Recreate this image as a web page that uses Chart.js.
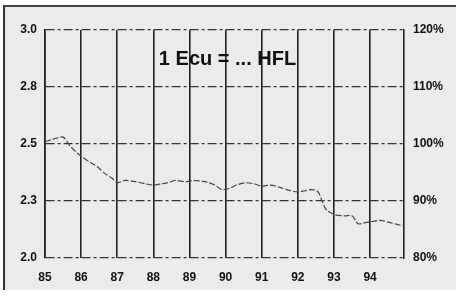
<!DOCTYPE html>
<html>
<head>
<meta charset="utf-8">
<script src="https://cdn.jsdelivr.net/npm/chart.js@4/dist/chart.umd.min.js"></script>
<style>
  body { margin: 0; background: #fff; }
  #marco {
    position: absolute; left: 3px; top: 5px; width: 453px; height: 285px;
    background: #ebebeb; border-left: 2px solid #333; border-top: 2px solid #444;
    box-sizing: border-box;
  }
  #caja { position: absolute; left: 0; top: 0; width: 456px; height: 300px; }
</style>
</head>
<body>
<div id="marco"></div>
<div id="caja"><canvas id="grafica" width="456" height="300"></canvas></div>
<script>
// Tipo de cambio: 1 Ecu en florines (HFL), años 85-94
const anios = [85.0, 85.2, 85.5, 85.7, 85.97, 86.25, 86.45, 86.66, 86.86, 87.0,
  87.2, 87.5, 87.8, 88.0, 88.2, 88.4, 88.6, 88.88, 89.1, 89.43,
  89.7, 89.9, 90.1, 90.3, 90.54, 90.8, 91.0, 91.23, 91.5, 91.8,
  92.0, 92.2, 92.4, 92.56, 92.67, 92.8, 93.03, 93.3, 93.5, 93.67,
  93.86, 94.06, 94.28, 94.56, 94.94];
const ecu = [2.51, 2.52, 2.53, 2.49, 2.45, 2.42, 2.40, 2.37, 2.35, 2.33,
  2.34, 2.335, 2.325, 2.32, 2.325, 2.33, 2.34, 2.335, 2.34, 2.335,
  2.32, 2.30, 2.305, 2.32, 2.33, 2.325, 2.315, 2.32, 2.31, 2.295,
  2.29, 2.295, 2.30, 2.29, 2.25, 2.21, 2.19, 2.185, 2.185, 2.15,
  2.155, 2.16, 2.165, 2.155, 2.14];

// Etiquetas de los ejes
const ticksIzq = [2.0, 2.25, 2.5, 2.75, 3.0];
const ticksDer = [80, 90, 100, 110, 120];
const titulo = "1 Ecu = ... HFL";

const fuente = { family: "Liberation Sans, Arial, sans-serif", size: 12, weight: "bold" };

// Texto dentro del área de la gráfica
const textoTitulo = {
  id: "textoTitulo",
  afterDraw(chart) {
    const { ctx, chartArea } = chart;
    ctx.save();
    ctx.font = "bold 20px Liberation Sans, Arial, sans-serif";
    ctx.fillStyle = "#111";
    ctx.textAlign = "center";
    ctx.textBaseline = "middle";
    ctx.fillText(titulo, (chartArea.left + chartArea.right) / 2 + 3, chartArea.top + 29);
    ctx.restore();
  }
};

new Chart(document.querySelector("#grafica"), {
  type: "line",
  data: {
    datasets: [{
      label: titulo,
      data: anios.map((x, i) => ({ x: x, y: ecu[i] })),
      borderColor: "#444",
      borderWidth: 1.2,
      borderDash: [6, 2],
      pointRadius: 0,
      tension: 0.3,
      yAxisID: "y"
    }]
  },
  options: {
    responsive: false,
    animation: false,
    layout: { padding: { top: 30, left: 0, right: 0, bottom: 0 } },
    plugins: { legend: { display: false }, tooltip: { enabled: false } },
    scales: {
      x: {
        type: "linear",
        min: 85,
        max: 94.94,
        afterFit: (s) => { s.height = 42; },
        ticks: { stepSize: 1, includeBounds: false, padding: 12, color: "#111", font: fuente },
        grid: { color: "#222", lineWidth: 1.6, drawTicks: false },
        border: { display: false }
      },
      y: {
        position: "left",
        min: 2,
        max: 3,
        afterFit: (s) => { s.width = 45; },
        afterBuildTicks: (s) => { s.ticks = ticksIzq.map(v => ({ value: v })); },
        ticks: { padding: 8, color: "#111", font: fuente, callback: (v) => v.toFixed(1) },
        grid: { color: "#333", lineWidth: 1.3, drawTicks: false },
        border: { display: true, color: "#222", width: 1.6, dash: [9, 3, 3, 3] }
      },
      y2: {
        position: "right",
        min: 80,
        max: 120,
        afterFit: (s) => { s.width = 52; },
        afterBuildTicks: (s) => { s.ticks = ticksDer.map(v => ({ value: v })); },
        ticks: { padding: 9, color: "#111", font: fuente, callback: (v) => v + "%" },
        grid: { drawOnChartArea: false, drawTicks: false },
        border: { display: true, color: "#222", width: 1.6 }
      }
    }
  },
  plugins: [textoTitulo]
});
</script>
</body>
</html>
